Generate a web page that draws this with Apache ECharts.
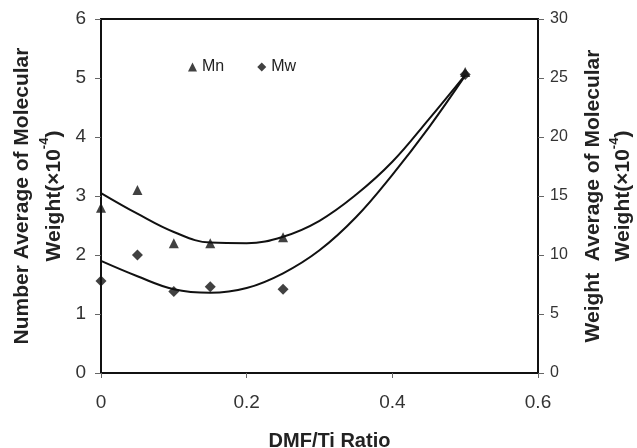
<!DOCTYPE html>
<html>
<head>
<meta charset="utf-8">
<script src="https://cdn.jsdelivr.net/npm/echarts@6/dist/echarts.min.js"></script>
<style>
html,body{margin:0;padding:0;background:#fff;}
#chart{width:637px;height:448px;}
</style>
</head>
<body>
<div id="chart"></div>
<script>
// Measured points
const ratios = [0, 0.05, 0.1, 0.15, 0.25, 0.5];
const mnValues = [2.8, 3.1, 2.2, 2.2, 2.3, 5.1];      // left axis
const mwValues = [7.8, 10.0, 6.9, 7.3, 7.1, 25.3];    // right axis

// Trend curves
const trendX = [0, 0.05, 0.1, 0.15, 0.2, 0.25, 0.3, 0.35, 0.4, 0.45, 0.5];
const mnTrend = [3.05, 2.70, 2.39, 2.21, 2.2, 2.31, 2.58, 3.02, 3.58, 4.3, 5.05];
const mwTrend = [9.5, 8.2, 7.1, 6.8, 7.2, 8.45, 10.4, 13.2, 16.8, 20.8, 25.2];

const xTicks = ['0', '0.2', '0.4', '0.6'];

const FONT = "'Liberation Sans', Arial, sans-serif";
const zip = (xs, ys) => xs.map((x, i) => [x, ys[i]]);

const nameRich = (size) => ({
  t: {fontSize: size, fontWeight: 'bold', color: '#222', fontFamily: FONT},
  s: {fontSize: Math.round(size * 0.62), fontWeight: 'bold', color: '#222', fontFamily: FONT, verticalAlign: 'top'}
});

const chart = echarts.init(document.getElementById('chart'), null, {renderer: 'canvas'});
chart.setOption({
  animation: false,
  backgroundColor: '#fff',
  textStyle: {fontFamily: FONT},
  grid: {left: 101, right: 99, top: 19, bottom: 75, show: true, borderColor: '#111', borderWidth: 2,
         containLabel: false, outerBoundsMode: 'none'},
  legend: {
    left: 183, top: 54,
    itemWidth: 9, itemHeight: 9, itemGap: 33,
    textStyle: {fontSize: 16, color: '#222', fontFamily: FONT},
    data: [{name: 'Mn', icon: 'triangle'}, {name: 'Mw', icon: 'diamond'}]
  },
  xAxis: {
    type: 'value', min: 0, max: 0.6, interval: 0.2,
    axisLine: {show: true, lineStyle: {color: '#111', width: 2}},
    axisTick: {show: true, length: 5, lineStyle: {color: '#666', width: 1}},
    splitLine: {show: false},
    axisLabel: {fontSize: 19, color: '#333', margin: 20, fontFamily: FONT,
      formatter: v => xTicks[Math.round(v / 0.2)]},
    name: 'DMF/Ti Ratio', nameLocation: 'middle', nameGap: 58, nameMoveOverlap: false,
    nameTextStyle: {fontSize: 20, fontWeight: 'bold', color: '#222', fontFamily: FONT, padding: [0, 0, 0, 20]}
  },
  yAxis: [{
    type: 'value', min: 0, max: 6, interval: 1, position: 'left',
    axisLine: {show: true, lineStyle: {color: '#111', width: 2}},
    axisTick: {show: true, length: 6, lineStyle: {color: '#666', width: 1}},
    splitLine: {show: false},
    axisLabel: {fontSize: 19, color: '#333', margin: 15, fontFamily: FONT},
    name: '{t|Number Average of Molecular}\n{t|Weight(×10}{s|-4}{t|)}', nameLocation: 'middle', nameRotate: 90,
    nameGap: 31, nameMoveOverlap: false,
    nameTextStyle: {fontSize: 21, fontWeight: 'bold', color: '#222', lineHeight: 32, fontFamily: FONT, rich: nameRich(21)}
  }, {
    type: 'value', min: 0, max: 30, interval: 5, position: 'right',
    axisLine: {show: true, lineStyle: {color: '#111', width: 2}},
    axisTick: {show: true, length: 6, lineStyle: {color: '#666', width: 1}},
    splitLine: {show: false},
    axisLabel: {fontSize: 16, color: '#333', margin: 12, fontFamily: FONT},
    name: '{t|Weight  Average of Molecular}\n{t|Weight(×10}{s|-4}{t|)}', nameLocation: 'middle', nameRotate: 90,
    nameGap: 40, nameMoveOverlap: false,
    nameTextStyle: {fontSize: 21, fontWeight: 'bold', color: '#222', lineHeight: 30, fontFamily: FONT, rich: nameRich(21)}
  }],
  series: [{
    name: 'Mn trend', type: 'line', yAxisIndex: 0, data: zip(trendX, mnTrend),
    smooth: 0.4, showSymbol: false, lineStyle: {color: '#111', width: 2}, z: 2
  }, {
    name: 'Mw trend', type: 'line', yAxisIndex: 1, data: zip(trendX, mwTrend),
    smooth: 0.4, showSymbol: false, lineStyle: {color: '#111', width: 2}, z: 2
  }, {
    name: 'Mn', type: 'scatter', yAxisIndex: 0, data: zip(ratios, mnValues),
    symbol: 'triangle', symbolSize: 10, itemStyle: {color: '#111'}, z: 3
  }, {
    name: 'Mw', type: 'scatter', yAxisIndex: 1, data: zip(ratios, mwValues),
    symbol: 'diamond', symbolSize: [11, 11], itemStyle: {color: '#111'}, z: 3
  }]
});
</script>
</body>
</html>
